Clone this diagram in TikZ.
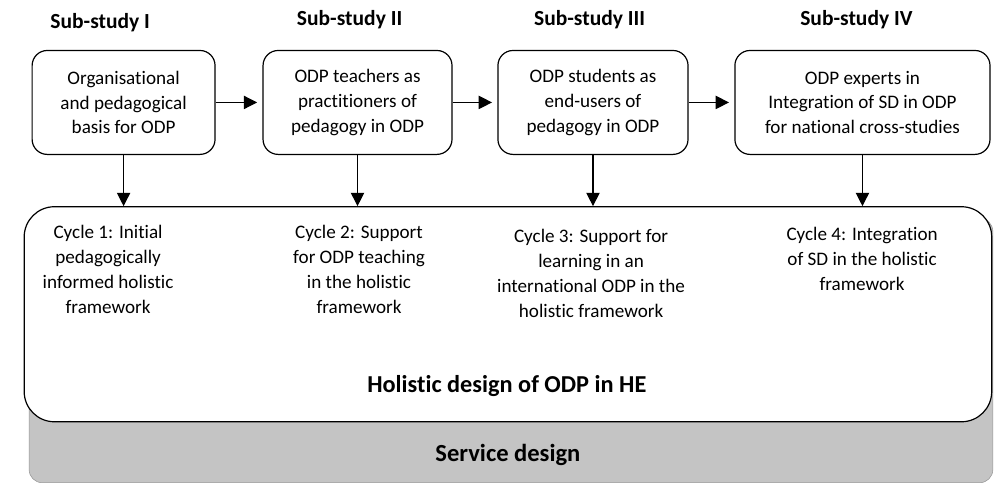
\documentclass[tikz,border=0pt]{standalone}
\usepackage{fontspec}
\setmainfont{Carlito}[Ligatures=NoCommon]
\usetikzlibrary{arrows.meta,positioning}

\definecolor{svcgray}{RGB}{196,196,196}
\definecolor{svcedge}{RGB}{150,150,150}

\tikzset{
    studybox/.style={draw, line width=0.9pt, rounded corners=0.4cm, align=center,
        minimum width=#1, minimum height=2.75cm, anchor=north,
        font=\fontsize{14.4}{18.75}\selectfont},
    heading/.style={font=\fontsize{16.2}{18}\selectfont\bfseries},
    cycletext/.style={align=center, anchor=north, font=\fontsize{14.4}{18.75}\selectfont},
    flow/.style={-{Triangle[length=10pt,width=10pt]}, line width=0.9pt},
}

\begin{document}
\begin{tikzpicture}
            \useasboundingbox (0,0) rectangle (26.38,12.83);

            % service design layer underneath
            \node[draw=svcedge, fill=svcgray, rounded corners=0.35cm, minimum width=25.5cm,
                minimum height=7cm, anchor=south] (svc) at (13.52,0.05) {};
            \node[font=\fontsize{18.5}{20}\selectfont\bfseries] (svclbl) at (13.44,0.79) {Service design};

            % holistic design frame
            \node[draw, fill=white, line width=0.9pt, rounded corners=0.8cm, minimum width=25.6cm,
                minimum height=5.69cm] (hol) at (13.44,4.515) {};
            \node[font=\fontsize{18.3}{20}\selectfont\bfseries] (hollbl) at (13.41,2.62) {Holistic design of ODP in HE};

            % sub-studies
            \foreach \n/\x/\w/\txt in {
                1/3.27/4.84/{Organisational\\and pedagogical\\basis for ODP},
                2/9.46/5.0/{ODP teachers as\\practitioners of\\pedagogy in ODP},
                3/15.69/5.03/{ODP students as\\end-users of\\pedagogy in ODP},
                4/22.82/6.75/{ODP experts in\\Integration of SD in ODP\\for national cross-studies}} {
                \node[studybox=\w cm] (box\n) at (\x, 11.51) {\txt};
            }
            \node[heading] (head1) at (2.65, 12.22) {Sub-study I};
            \node[heading] (head2) at (9.25, 12.31) {Sub-study II};
            \node[heading] (head3) at (15.6, 12.31) {Sub-study III};
            \node[heading] (head4) at (22.66, 12.31) {Sub-study IV};

            % cycles
            \node[cycletext] (cyc1) at (2.86, 6.99) {Cycle 1: Initial\\pedagogically\\informed holistic\\framework};
            \node[cycletext] (cyc2) at (9.5, 6.99) {Cycle 2: Support\\for ODP teaching\\in the holistic\\framework};
            \node[cycletext] (cyc3) at (15.64, 6.89) {Cycle 3: Support for\\learning in an\\international ODP in the\\holistic framework};
            \node[cycletext] (cyc4) at (22.81, 6.95) {Cycle 4: Integration\\of SD in the holistic\\framework};

            \foreach \a/\b in {1/2, 2/3, 3/4} {
                \draw[flow, shorten >=4pt] (box\a) -- (box\b);
            }
            \foreach \n in {1,...,4} {
                \draw[flow] (box\n.south) -- (box\n.south |- hol.north);
            }

        \end{tikzpicture}
\end{document}
